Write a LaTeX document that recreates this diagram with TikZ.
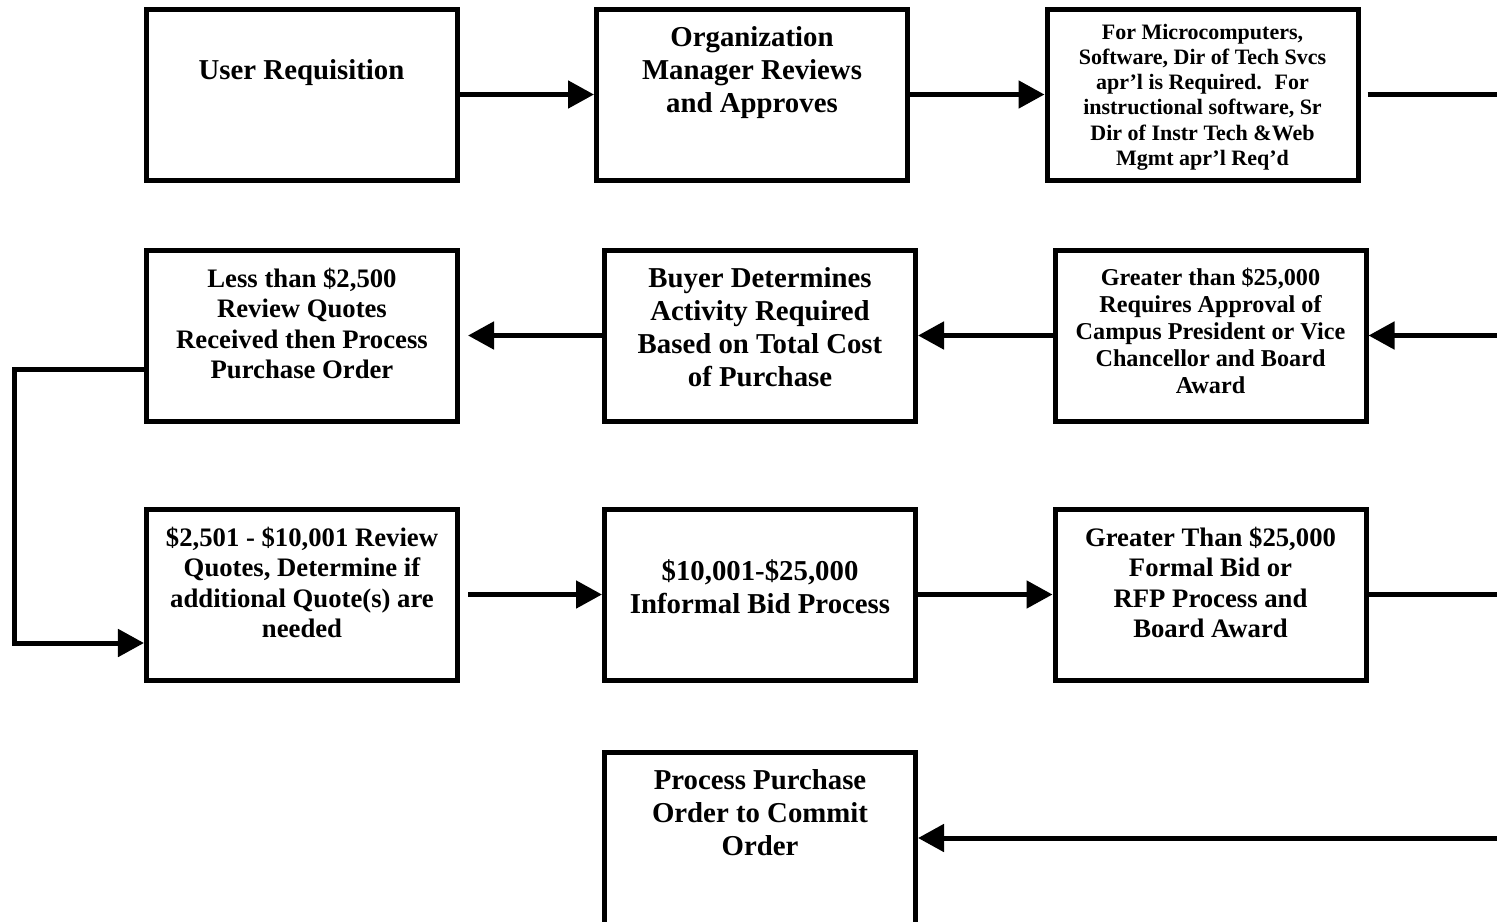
\documentclass[tikz,border=0pt]{standalone}
\usepackage{fontspec}
\setmainfont{Liberation Serif}
\usepackage{tikz}
\usetikzlibrary{arrows.meta}
\newcommand{\boxtext}[4][18bp]{\parbox[c][171bp][t]{304bp}{\centering\fontsize{#2}{#3}\selectfont\bfseries\vspace*{#1}#4\par}}
\tikzset{
  procbox/.style={rectangle,draw=black,line width=5bp,minimum width=311bp,minimum height=171bp,inner sep=0pt},
  arrow/.style={-{Triangle[length=26bp,width=27bp]},line width=5bp,draw=black},
  feed/.style={line width=5bp,draw=black}
}

\begin{document}
\begin{tikzpicture}[x=1bp,y=-1bp]
\path[use as bounding box,fill=white] (0,0) rectangle (1497,921);
\node[procbox] (req) at (301.5,94.5) {\boxtext[51bp]{28.8bp}{33bp}{User Requisition}};
\node[procbox] (mgr) at (752,94.5) {\boxtext{28.8bp}{33bp}{Organization\\Manager Reviews\\and Approves}};
\node[procbox] (tech) at (1202.5,94.5) {\boxtext[15bp]{22bp}{25.2bp}{For Microcomputers,\\Software, Dir of Tech Svcs\\apr’l is Required.~ For\\instructional software, Sr\\Dir of Instr Tech \&Web\\Mgmt apr’l Req’d}};
\node[procbox] (low) at (302,335.5) {\boxtext{26.7bp}{30.5bp}{Less than \$2,500\\Review Quotes\\Received then Process\\Purchase Order}};
\node[procbox] (buyer) at (760,335.5) {\boxtext{28.8bp}{33bp}{Buyer Determines\\Activity Required\\Based on Total Cost\\of Purchase}};
\node[procbox] (board) at (1210.5,335.5) {\boxtext{24.2bp}{27bp}{Greater than \$25,000\\Requires Approval of\\Campus President or Vice\\Chancellor and Board\\Award}};
\node[procbox] (quotes) at (302,594.5) {\boxtext{26.7bp}{30.5bp}{\$2,501 - \$10,001 Review\\Quotes, Determine if\\additional Quote(s) are\\needed}};
\node[procbox] (informal) at (760,594.5) {\boxtext[51bp]{28.8bp}{33bp}{\$10,001-\$25,000\\Informal Bid Process}};
\node[procbox] (formal) at (1210.5,594.5) {\boxtext{26.7bp}{30.5bp}{Greater Than \$25,000\\Formal Bid or\\RFP Process and\\Board Award}};
\node[procbox,minimum height=190bp] (commit) at (760,847) {\boxtext[8.5bp]{28.8bp}{33bp}{Process Purchase\\Order to Commit\\Order}};
\coordinate (out1) at (1500,94.5);
\coordinate (in2) at (1500,335.5);
\coordinate (out3) at (1500,594.5);
\coordinate (in4) at (1500,838);
\draw[arrow] (req)--(mgr); \draw[arrow] (mgr)--(tech); \draw[feed] ([xshift=7bp]tech.east)--(out1);
\draw[arrow] (in2)--(board); \draw[arrow] (board)--(buyer); \draw[arrow] (buyer)--([xshift=8bp]low.east);
\draw[arrow] ([yshift=-33.5bp]low.west) -- ++(-129,0) |- ([yshift=-48.5bp]quotes.west);
\draw[arrow] ([xshift=8bp]quotes.east)--(informal); \draw[arrow] (informal)--(formal); \draw[feed] (formal)--(out3);
\draw[arrow] (in4)--(in4 -| commit.east);
\end{tikzpicture}
\end{document}
